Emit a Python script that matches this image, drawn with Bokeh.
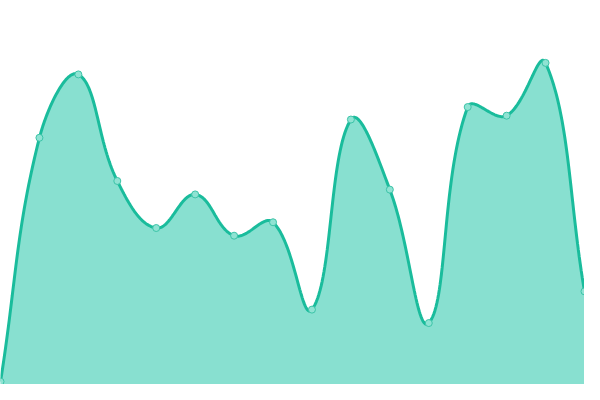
import numpy as np
from bokeh.plotting import figure
from bokeh.models import Range1d
from bokeh.embed import file_html
from bokeh.resources import INLINE

# data
xs = [0, 40, 80, 120, 160, 200, 240, 280, 320, 360, 400, 440, 480, 520, 560, 600]
ys = [3, 257, 323, 212, 163, 198, 155, 169, 78, 276, 203, 64, 289, 280, 335, 97]

LINE = "#1abc9c"
FILL = "#88e0d0"


def spline_path(px, py, tension=0.4, n=40):
    px = np.asarray(px, float)
    py = np.asarray(py, float)
    m = len(px)
    c1 = []
    c2 = []
    for i in range(m):
        p0 = (px[max(i - 1, 0)], py[max(i - 1, 0)])
        p1 = (px[i], py[i])
        p2 = (px[min(i + 1, m - 1)], py[min(i + 1, m - 1)])
        d01 = np.hypot(p1[0] - p0[0], p1[1] - p0[1])
        d12 = np.hypot(p2[0] - p1[0], p2[1] - p1[1])
        tot = d01 + d12
        s01 = d01 / tot if tot else 0
        s12 = d12 / tot if tot else 0
        fa = tension * s01
        fb = tension * s12
        c1.append((p1[0] - fa * (p2[0] - p0[0]), p1[1] - fa * (p2[1] - p0[1])))
        c2.append((p1[0] + fb * (p2[0] - p0[0]), p1[1] + fb * (p2[1] - p0[1])))
    ox, oy = [], []
    t = np.linspace(0, 1, n)
    for i in range(m - 1):
        a = (px[i], py[i])
        b = c2[i]
        c = c1[i + 1]
        d = (px[i + 1], py[i + 1])
        bx = (1 - t) ** 3 * a[0] + 3 * (1 - t) ** 2 * t * b[0] + 3 * (1 - t) * t ** 2 * c[0] + t ** 3 * d[0]
        by = (1 - t) ** 3 * a[1] + 3 * (1 - t) ** 2 * t * b[1] + 3 * (1 - t) * t ** 2 * c[1] + t ** 3 * d[1]
        if i > 0:
            bx, by = bx[1:], by[1:]
        ox.extend(bx)
        oy.extend(np.clip(by, 0, 400))
    return np.array(ox), np.array(oy)


cx, cy = spline_path(xs, ys)

p = figure(width=584, height=384, output_backend="svg", toolbar_location=None,
           x_range=Range1d(0, 600), y_range=Range1d(0, 400), min_border=0)
p.axis.visible = False
p.grid.visible = False
p.outline_line_color = None
p.background_fill_color = "white"

p.varea(x=cx, y1=0, y2=cy, fill_color=FILL, fill_alpha=1.0)
p.line(cx, cy, line_color=LINE, line_width=3)
p.scatter(xs, ys, size=7, marker="circle", fill_color="#8fe3d3", line_color="#3cc4a8", line_width=1)

open("out.html", "w").write(file_html(p, INLINE))
